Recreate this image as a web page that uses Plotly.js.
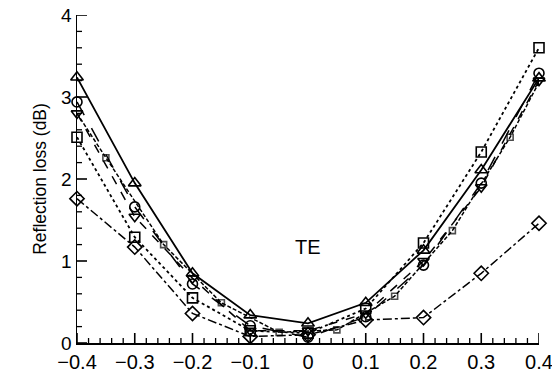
<!DOCTYPE html>
<html>
<head>
<meta charset="utf-8">
<script src="https://cdn.plot.ly/plotly-3.0.1.min.js"></script>
<style>html,body{margin:0;padding:0;background:#fff;}#chart{width:552px;height:380px;}</style>
</head>
<body>
<div id="chart"></div>
<script>
// Angle values (main grid)
const xMain = [-0.4, -0.3, -0.2, -0.1, 0, 0.1, 0.2, 0.3, 0.4];
// Intermediate angle values for the small-square series
const xHalf = [-0.4, -0.35, -0.25, -0.15, -0.05, 0.05, 0.15, 0.25, 0.35, 0.4];

const triUp   = [3.24, 1.95, 0.85, 0.34, 0.24, 0.49, 1.13, 2.11, 3.23];
const circle  = [2.94, 1.66, 0.72, 0.21, 0.07, 0.32, 0.95, 1.95, 3.29];
const triDown = [2.80, 1.54, 0.79, 0.15, 0.15, 0.36, 1.00, 1.90, 3.20];
const square  = [2.51, 1.29, 0.55, 0.15, 0.12, 0.42, 1.22, 2.33, 3.60];
const diamond = [1.76, 1.17, 0.36, 0.08, 0.10, 0.28, 0.31, 0.85, 1.46];
const smallSq = [2.80, 2.26, 1.20, 0.49, 0.13, 0.16, 0.57, 1.37, 2.51, 3.18];
const smallSqMarkerSize = [0, 6, 6, 6, 6, 6, 6, 6, 6, 0];

// Tick values
const xTicks = [-0.4, -0.3, -0.2, -0.1, 0, 0.1, 0.2, 0.3, 0.4];
const yTicks = [0, 1, 2, 3, 4];
const xMinor = [];
for (let i = -20; i <= 20; i++) { if (i % 5 !== 0) xMinor.push(i * 0.02); }
const yMinor = [];
for (let i = 1; i < 20; i++) { if (i % 5 !== 0) yMinor.push(i * 0.2); }

// Plot area size in pixels (used to convert tick lengths into axis units)
const W = 552, H = 380, ML = 77, MR = 13, MT = 15, MB = 37;
const XR = [-0.4, 0.4], YR = [0, 4];
const pxX = (XR[1] - XR[0]) / (W - ML - MR);
const pxY = (YR[1] - YR[0]) / (H - MT - MB);

function tr(x, y, symbol, dash, width, size) {
  return {
    x: x, y: y, type: 'scatter', mode: 'lines+markers', cliponaxis: false,
    line: {color: '#000', dash: dash, width: width},
    marker: {symbol: symbol, size: size, color: '#000', line: {color: '#000', width: 1.6}}
  };
}

// Inside tick marks as line segments built from the tick arrays
function xTickTrace(vals, lenPx, w) {
  const x = [], y = [];
  vals.forEach(v => { x.push(v, v, null); y.push(YR[0], YR[0] + lenPx * pxY, null); });
  return {x: x, y: y, type: 'scatter', mode: 'lines', cliponaxis: false, hoverinfo: 'skip',
          line: {color: '#000', width: w}};
}
function yTickTrace(vals, lenPx, w) {
  const x = [], y = [];
  vals.forEach(v => { x.push(XR[0], XR[0] + lenPx * pxX, null); y.push(v, v, null); });
  return {x: x, y: y, type: 'scatter', mode: 'lines', cliponaxis: false, hoverinfo: 'skip',
          line: {color: '#000', width: w}};
}

const data = [
  xTickTrace(xTicks, 10, 1.6),
  xTickTrace(xMinor, 5, 1.3),
  yTickTrace(yTicks, 10, 1.6),
  yTickTrace(yMinor, 5, 1.3),
  tr(xHalf, smallSq, 'square-open', '4px,2px', 1.5, smallSqMarkerSize),
  tr(xMain, diamond, 'diamond-open', 'dashdot', 1.5, 11),
  tr(xMain, square, 'square-open', 'dot', 1.8, 10),
  tr(xMain, triDown, 'triangle-down-open', 'dash', 1.5, 10),
  tr(xMain, circle, 'circle-open', 'longdash', 1.5, 10),
  tr(xMain, triUp, 'triangle-up-open', 'solid', 1.8, 11)
];

const fam = 'Liberation Sans, Arial, sans-serif';

const layout = {
  width: W, height: H,
  margin: {l: ML, r: MR, t: MT, b: MB},
  paper_bgcolor: '#fff', plot_bgcolor: '#fff',
  showlegend: false,
  font: {family: fam, color: '#000'},
  xaxis: {
    range: XR, tickmode: 'array', tickvals: xTicks,
    showgrid: false, zeroline: false, showline: true, linecolor: 'black', linewidth: 1.5,
    ticks: '', tickfont: {family: fam, size: 20, color: '#000'},
    ticklabeloverflow: 'allow'
  },
  yaxis: {
    range: YR, tickmode: 'array', tickvals: yTicks,
    showgrid: false, zeroline: false, showline: true, linecolor: 'black', linewidth: 1.5,
    ticks: '', tickfont: {family: fam, size: 19, color: '#000'},
    title: {text: 'Reflection loss (dB)', font: {family: fam, size: 17.5, color: '#000'}, standoff: 10}
  },
  annotations: [{
    x: 0, y: 1.17, xref: 'x', yref: 'y', text: 'TE', showarrow: false,
    font: {family: fam, size: 20, color: '#000'}
  }]
};

Plotly.newPlot('chart', data, layout, {displayModeBar: false, staticPlot: true});
</script>
</body>
</html>
